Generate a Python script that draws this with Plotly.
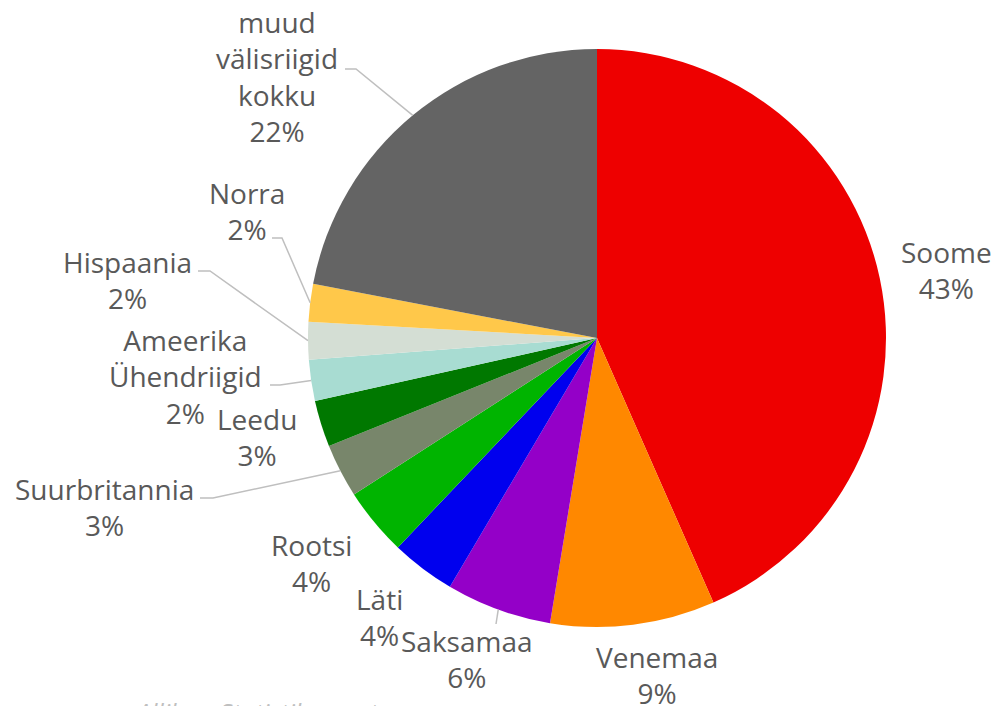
import math
import plotly.graph_objects as go

# ---- data ----
countries = ["Soome", "Venemaa", "Saksamaa", "Läti", "Rootsi", "Suurbritannia",
             "Leedu", "Ameerika Ühendriigid", "Hispaania", "Norra",
             "muud välisriigid kokku"]
label_text = ["Soome", "Venemaa", "Saksamaa", "Läti", "Rootsi", "Suurbritannia",
              "Leedu", "Ameerika<br>Ühendriigid", "Hispaania", "Norra",
              "muud<br>välisriigid<br>kokku"]
shares = [43.4, 9.2, 5.9, 3.6, 3.8, 3.0, 2.6, 2.3, 2.1, 2.1, 22.0]
colors = ["#EE0000", "#FF8800", "#9400C8", "#0000EE", "#00B400", "#78866B",
          "#007800", "#A8DCD2", "#D4DED4", "#FFC84A", "#646464"]
source_note = "Allikas: Statistikaamet"

W, H = 996, 706
CX, CY, R = 597, 338, 289

fig = go.Figure(go.Pie(
    labels=countries, values=shares, sort=False, direction="clockwise",
    rotation=0, marker=dict(colors=colors, line=dict(width=0)),
    textinfo="none", hoverinfo="label+percent", showlegend=False,
    domain=dict(x=[(CX - R) / W, (CX + R) / W],
                y=[(H - CY - R) / H, (H - CY + R) / H]),
))

# label positions (pixel centers) and optional leader elbow
label_pos = {
    "Soome": (946, 270), "Venemaa": (657, 675), "Saksamaa": (467, 659),
    "Läti": (379, 617), "Rootsi": (311, 563), "Suurbritannia": (104, 507),
    "Leedu": (257, 437), "Ameerika Ühendriigid": (185, 376),
    "Hispaania": (127, 280), "Norra": (247, 211),
    "muud välisriigid kokku": (277, 77),
}
leaders = {
    "muud välisriigid kokku": [(345, 69), (356, 69)],
    "Norra": [(272, 238), (282, 238)],
    "Hispaania": [(198, 271), (210, 271)],
    "Ameerika Ühendriigid": [(270, 385), (280, 385)],
    "Suurbritannia": [(200, 498), (213, 498)],
    "Saksamaa": [(496, 624)],
}

total = sum(shares)
cum = 0.0
annotations = []
shapes = []
for name, lt, v in zip(countries, label_text, shares):
    mid = (cum + v / 2) / total * 2 * math.pi
    cum += v
    pct = round(v / total * 100)
    lx, ly = label_pos[name]
    annotations.append(dict(
        x=lx / W, y=1 - ly / H, xref="paper", yref="paper",
        text=f"{lt}<br>{pct}%", showarrow=False, align="center",
        xanchor="center", yanchor="middle",
        font=dict(family="Open Sans", size=28, color="#595959"),
    ))
    if name in leaders:
        ex = CX + R * math.sin(mid)
        ey = CY - R * math.cos(mid)
        pts = leaders[name] + [(ex, ey)]
        path = "M " + " L ".join(f"{px / W} {1 - py / H}" for px, py in pts)
        shapes.append(dict(type="path", path=path, xref="paper", yref="paper",
                           line=dict(color="#BFBFBF", width=1.5)))

annotations.append(dict(
    x=133 / W, y=1 - 693 / H, xref="paper", yref="paper", text=source_note,
    showarrow=False, xanchor="left", yanchor="top",
    font=dict(family="Open Sans", size=25, color="#BFBFBF", style="italic"),
))

fig.update_layout(
    width=W, height=H, margin=dict(l=0, r=0, t=0, b=0),
    paper_bgcolor="white", plot_bgcolor="white",
    annotations=annotations, shapes=shapes,
)
fig.write_html("out.html", config={"displayModeBar": False},
               post_script="document.body.style.margin='0';"
                           "document.body.style.overflow='hidden';")
